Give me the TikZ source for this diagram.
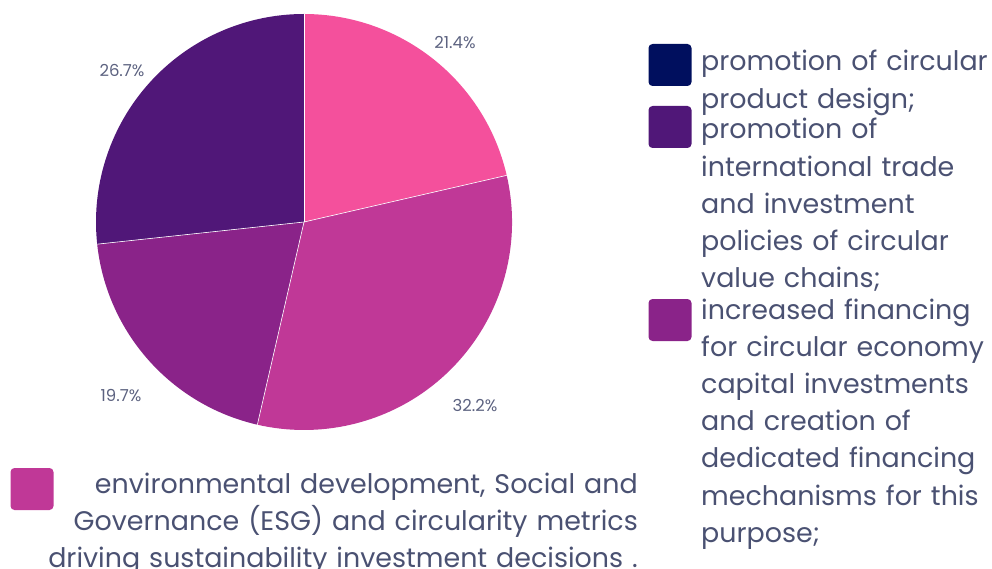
\documentclass[tikz,border=0pt]{standalone}
\usepackage{fontspec}
\setmainfont{Poppins}
\definecolor{txt}{HTML}{4A5172}
\definecolor{pct}{HTML}{5C6280}
\definecolor{cpink}{HTML}{F4509C}
\definecolor{cmag}{HTML}{C03897}
\definecolor{cpur}{HTML}{8A2389}
\definecolor{cdark}{HTML}{501778}
\definecolor{cnavy}{HTML}{000F5E}
\tikzset{
  slice/.style={draw=white, line width=0.6pt, line join=round},
  legbox/.style={rounded corners=4pt, minimum width=43pt, minimum height=42pt, inner sep=0pt, draw=none},
  legtext/.style={text=txt, font=\fontsize{26.9}{37.2}\selectfont, text width=300pt, align=left, inner sep=0pt, anchor=base west},
  pctlabel/.style={text=pct, font=\fontsize{16.5}{18}\selectfont, inner sep=0pt},
}
\begin{document}
\begin{tikzpicture}[x=1pt,y=-1pt]
\useasboundingbox (0,0) rectangle (992,569);
\coordinate (c) at (304,222);
% pie slices (angles in flipped y system)
\fill[cpink]  (c) -- ++(-90:208) arc[start angle=-90, end angle=-12.96, radius=208] -- cycle;
\fill[cmag]   (c) -- ++(-12.96:208) arc[start angle=-12.96, end angle=102.96, radius=208] -- cycle;
\fill[cpur]   (c) -- ++(102.96:208) arc[start angle=102.96, end angle=173.88, radius=208] -- cycle;
\fill[cdark]  (c) -- ++(173.88:208) arc[start angle=173.88, end angle=270, radius=208] -- cycle;
\draw[slice] (c) -- ++(-90:208);
\draw[slice] (c) -- ++(-12.96:208);
\draw[slice] (c) -- ++(102.96:208);
\draw[slice] (c) -- ++(173.88:208);
% percentage labels
\node[pctlabel] (p1) at (455,43) {21.4\%};
\node[pctlabel] (p2) at (475,406) {32.2\%};
\node[pctlabel] (p3) at (121,396) {19.7\%};
\node[pctlabel] (p4) at (122,71) {26.7\%};
% right legend
\node[legbox, fill=cnavy] (s1) at (670,65) {};
\node[legbox, fill=cdark] (s2) at (670,127) {};
\node[legbox, fill=cpur]  (s3) at (670,320) {};
\node[legtext] (t1) at (701,71) {promotion of circular\\product design;};
\node[legtext] (t2) at (701,139) {promotion of\\international trade\\and investment\\policies of circular\\value chains;};
\node[legtext] (t3) at (701,319) {increased financing\\for circular economy\\capital investments\\and creation of\\dedicated financing\\mechanisms for this\\purpose;};
% bottom legend
\node[legbox, fill=cmag] (s4) at (32,489) {};
\node[legtext, text width=620pt, align=right, anchor=base east] (t4) at (638,493) {environmental development, Social and\\Governance (ESG) and circularity metrics\\driving sustainability investment decisions .};
\end{tikzpicture}
\end{document}
